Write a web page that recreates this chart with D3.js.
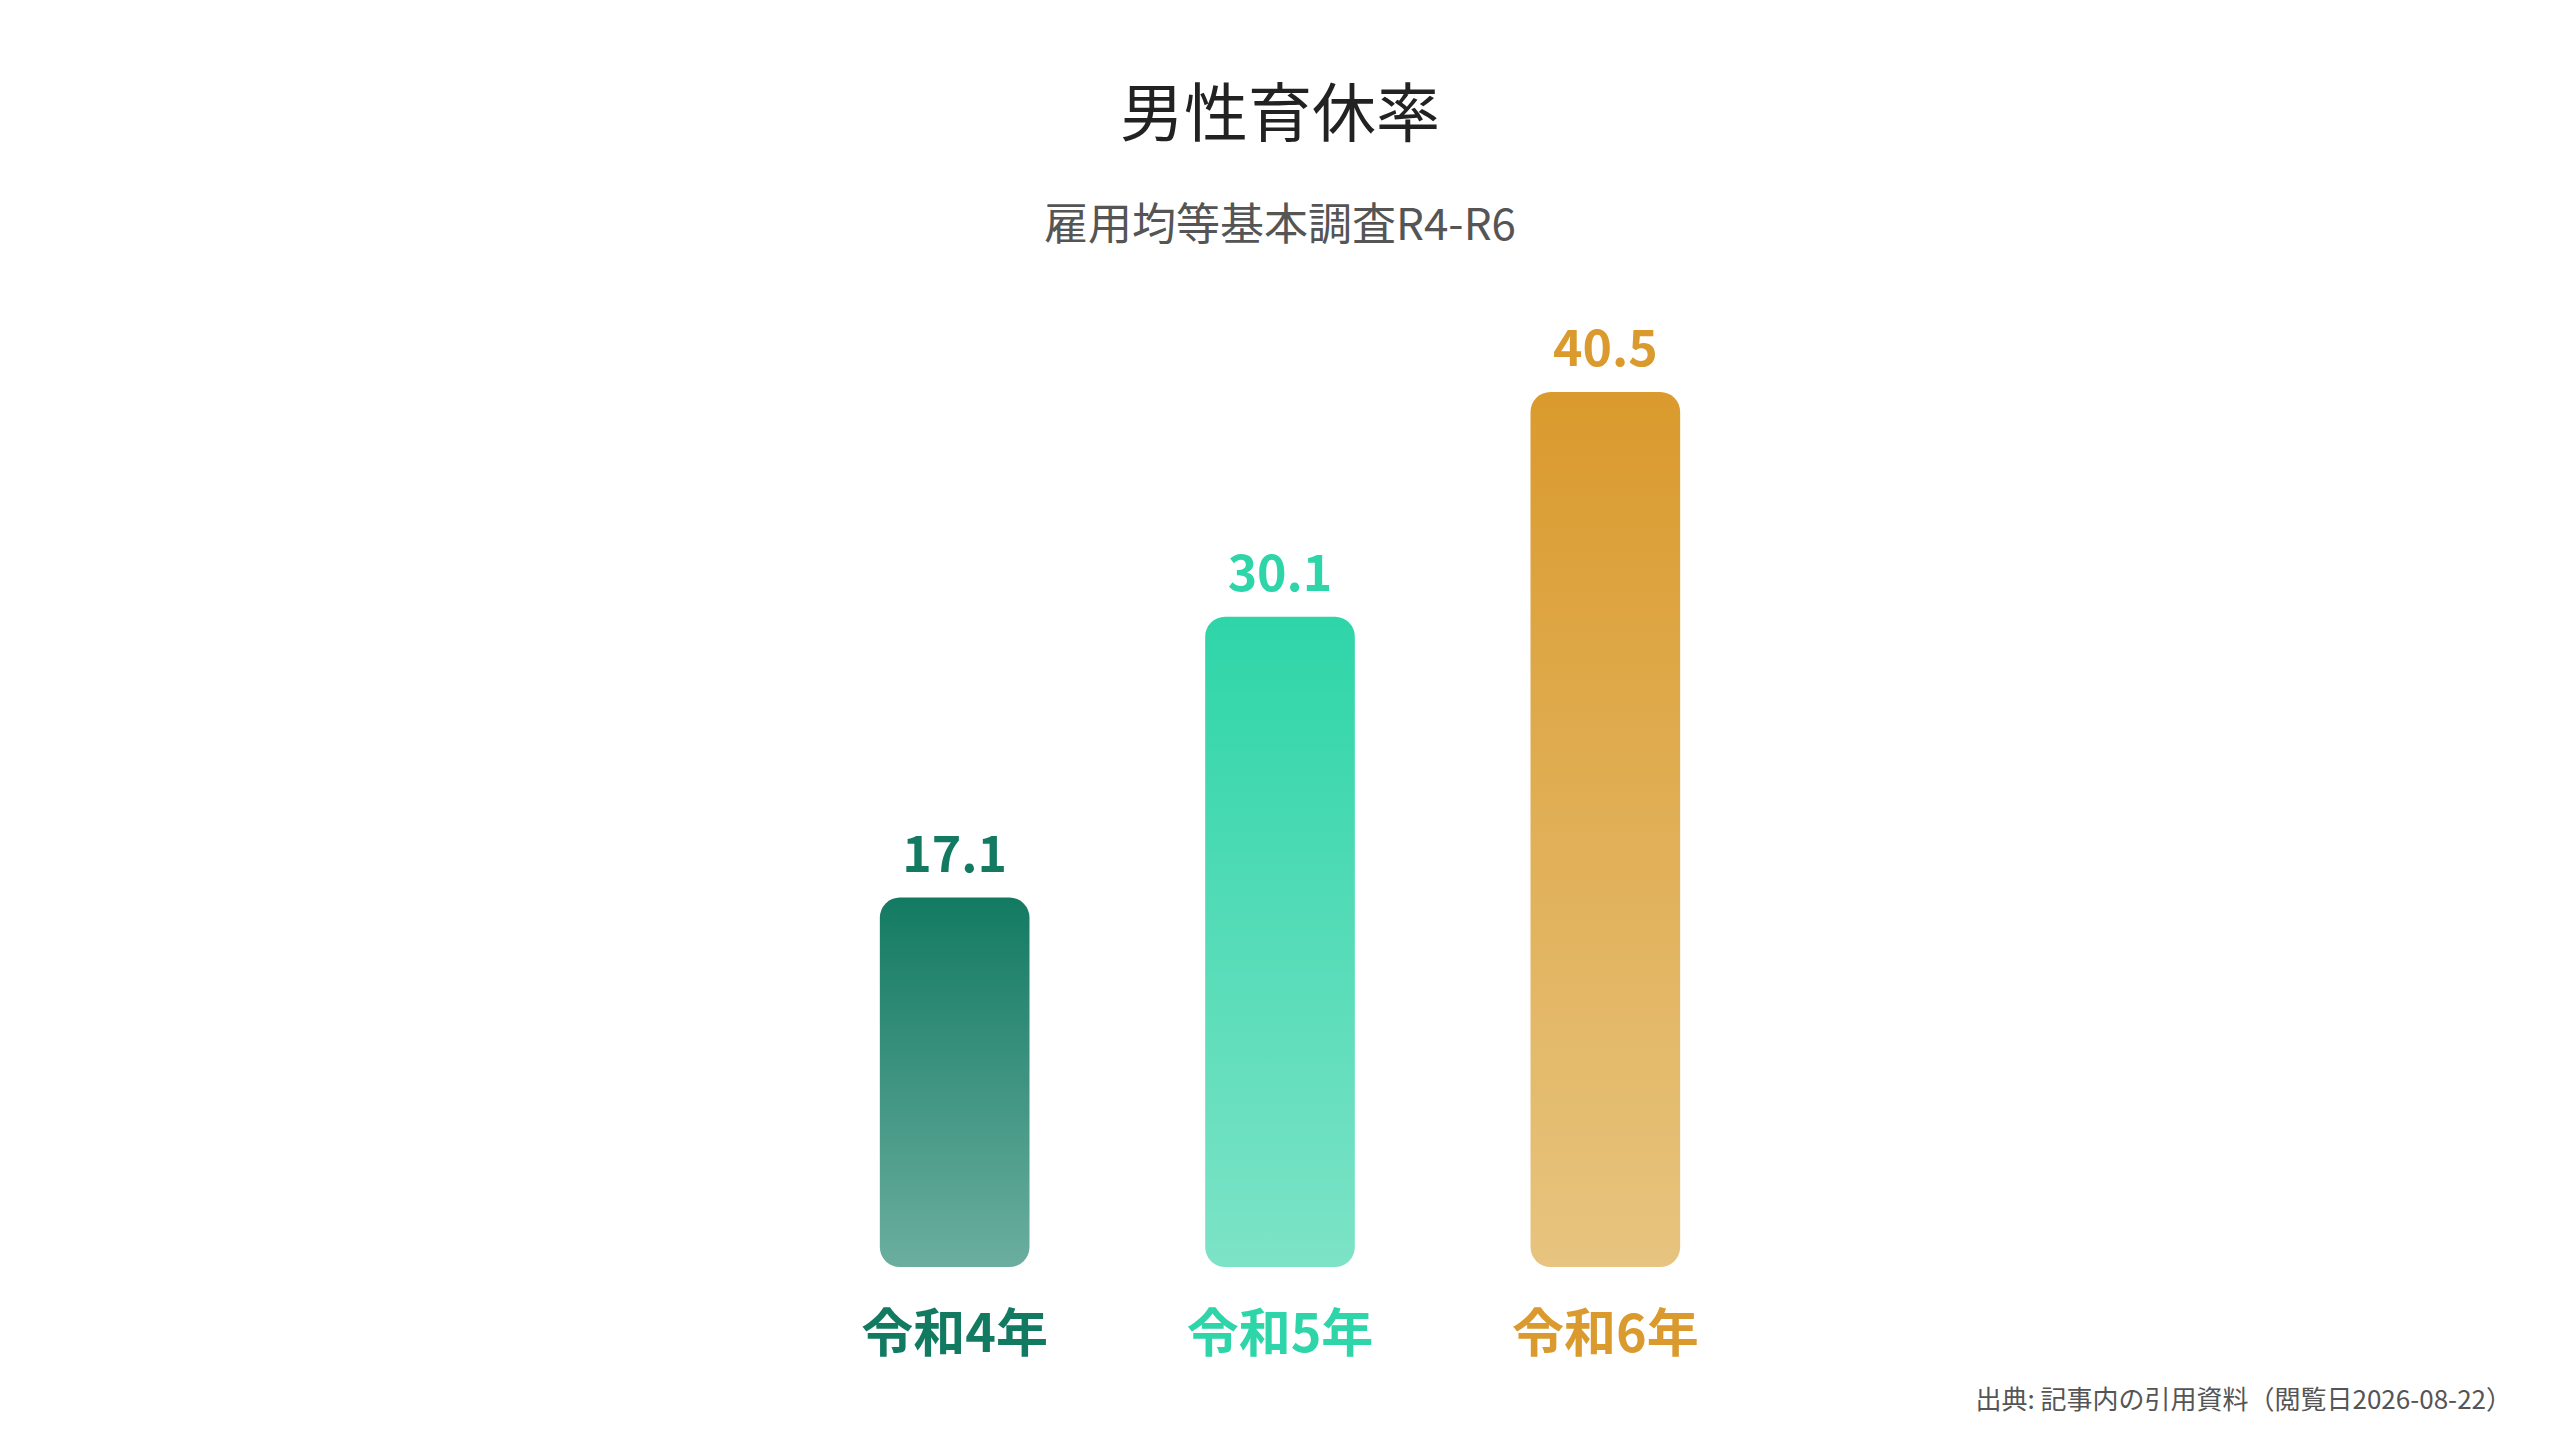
<!DOCTYPE html>
<html>
<head>
<meta charset="utf-8">
<script src="https://d3js.org/d3.v7.min.js"></script>
<style>
  body { margin: 0; background: #fff; }
  text { font-family: "Noto Sans CJK JP", "Noto Sans", sans-serif; }
</style>
</head>
<body>
<svg id="chart" width="2560" height="1440"></svg>
<script>
  // data
  const categories = ["令和4年", "令和5年", "令和6年"];
  const values = [17.1, 30.1, 40.5];
  const topColors = ["#137a62", "#2ed5a8", "#da9a2d"];
  const bottomColors = ["#6bae9f", "#7de3c7", "#e7c47f"];
  const labelColors = ["#137a62", "#2ed5a8", "#da9a2d"];

  const svg = d3.select("#chart");
  const baseY = 1267;

  const x = d3.scaleBand()
    .domain(categories)
    .range([792, 1768])
    .paddingInner(0.54)
    .paddingOuter(0.27);
  const y = d3.scaleLinear().domain([0, 40.5]).range([baseY, 392]);

  const defs = svg.append("defs");
  categories.forEach(function(c, i) {
    const g = defs.append("linearGradient")
      .attr("id", "grad" + i)
      .attr("x1", 0).attr("y1", 0).attr("x2", 0).attr("y2", 1);
    g.append("stop").attr("offset", "0%").attr("stop-color", topColors[i]);
    g.append("stop").attr("offset", "100%").attr("stop-color", bottomColors[i]);
  });

  // title
  svg.append("text")
    .attr("x", 1280).attr("y", 136)
    .attr("text-anchor", "middle")
    .attr("font-size", 64)
    .attr("fill", "#222")
    .text("男性育休率");
  svg.append("text")
    .attr("x", 1280).attr("y", 240)
    .attr("text-anchor", "middle")
    .attr("font-size", 44)
    .attr("fill", "#555")
    .text("雇用均等基本調査R4-R6");

  // bars
  svg.selectAll("rect.bar")
    .data(values)
    .join("rect")
      .attr("class", "bar")
      .attr("x", function(d, i) { return x(categories[i]); })
      .attr("y", function(d) { return y(d); })
      .attr("width", x.bandwidth())
      .attr("height", function(d) { return baseY - y(d); })
      .attr("rx", 20)
      .attr("fill", function(d, i) { return "url(#grad" + i + ")"; });

  // value labels
  svg.selectAll("text.value")
    .data(values)
    .join("text")
      .attr("class", "value")
      .attr("x", function(d, i) { return x(categories[i]) + x.bandwidth() / 2; })
      .attr("y", function(d) { return y(d) - 26; })
      .attr("text-anchor", "middle")
      .attr("font-size", 50)
      .attr("font-weight", "bold")
      .attr("fill", function(d, i) { return labelColors[i]; })
      .text(function(d) { return d3.format(".1f")(d); });

  // category labels
  svg.selectAll("text.cat")
    .data(categories)
    .join("text")
      .attr("class", "cat")
      .attr("x", function(d) { return x(d) + x.bandwidth() / 2; })
      .attr("y", 1352)
      .attr("text-anchor", "middle")
      .attr("font-size", 52)
      .attr("font-weight", "bold")
      .attr("fill", function(d, i) { return labelColors[i]; })
      .text(function(d) { return d; });

  // footer
  svg.append("text")
    .attr("x", 2512).attr("y", 1409)
    .attr("text-anchor", "end")
    .attr("font-size", 26)
    .attr("fill", "#555")
    .text("出典: 記事内の引用資料（閲覧日2026-08-22）");
</script>
</body>
</html>
